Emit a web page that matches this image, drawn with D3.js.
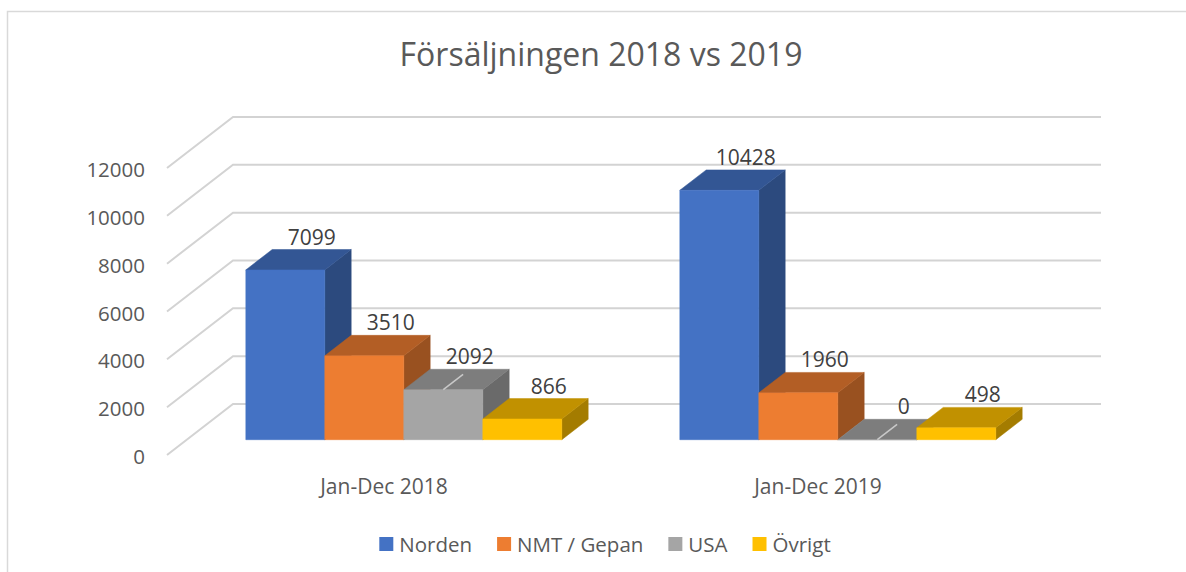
<!DOCTYPE html>
<html>
<head>
<meta charset="utf-8">
<script src="https://cdn.jsdelivr.net/npm/d3@7"></script>
<style>
  body { margin: 0; background: #fff; }
  text { font-family: "Open Sans", sans-serif; }
</style>
</head>
<body>
<svg id="chart" width="1186" height="572"></svg>
<script>
var categories = ['Jan-Dec 2018', 'Jan-Dec 2019']
var seriesNames = ['Norden', 'NMT / Gepan', 'USA', 'Övrigt']
var norden = [7099, 10428]
var nmtGepan = [3510, 1960]
var usa = [2092, 0]
var ovrigt = [866, 498]
var yTicks = [0, 2000, 4000, 6000, 8000, 10000, 12000]
var colors = ['#4472C4', '#ED7D31', '#A5A5A5', '#FFC000']

var seriesValues = [norden, nmtGepan, usa, ovrigt]

var svg = d3.select('#chart')

// frame (only top and left edge fall inside the window)
svg.append('rect')
  .attr('x', 7.5).attr('y', 11.5)
  .attr('width', 1300).attr('height', 700)
  .attr('fill', 'none')
  .attr('stroke', '#d9d9d9')
  .attr('stroke-width', 1.5)

// oblique 3d frame
var originX = 167, originY = 455
var plotW = 868, plotH = 287
var depthX = 66, depthY = 51
var zFront = 0.3, zBack = 0.7

var y = d3.scaleLinear().domain([0, 12000]).range([0, plotH])
var x0 = d3.scaleBand().domain(categories).range([0, plotW])
var x1 = d3.scaleBand().domain(seriesNames).range([0, x0.bandwidth()]).paddingOuter(0.747)

function proj(x, v, z) {
  return [originX + x + z * depthX, originY - y(v) - z * depthY]
}

function poly(pts) {
  return 'M' + pts.map(function(p) { return p[0] + ',' + p[1] }).join('L') + 'Z'
}

function shade(c, k) {
  var r = d3.rgb(c)
  return d3.rgb(r.r * k, r.g * k, r.b * k).formatHex()
}

// gridlines: side wall diagonal + back wall
svg.append('g').attr('class', 'grid')
  .selectAll('path')
  .data(yTicks)
  .enter()
  .append('path')
  .attr('d', function(d) {
    var a = proj(0, d, 0), b = proj(0, d, 1), c = proj(plotW, d, 1)
    return 'M' + a + 'L' + b + 'L' + c
  })
  .attr('fill', 'none')
  .attr('stroke', '#d3d3d3')
  .attr('stroke-width', 2)

// y labels
svg.append('g')
  .selectAll('text')
  .data(yTicks)
  .enter()
  .append('text')
  .attr('x', 145)
  .attr('y', function(d) { return proj(0, d, 0)[1] + 1 })
  .attr('text-anchor', 'end')
  .attr('dominant-baseline', 'central')
  .attr('font-size', 20.5)
  .attr('fill', '#595959')
  .text(function(d) { return d })

// bars
var bars = []
categories.forEach(function(cat, ci) {
  seriesNames.forEach(function(s, si) {
    bars.push({ cat: cat, series: s, value: seriesValues[si][ci], color: colors[si] })
  })
})

var barG = svg.append('g').attr('class', 'bars')
bars.forEach(function(d) {
  var xl = x0(d.cat) + x1(d.series)
  var xr = xl + x1.bandwidth()
  var g = barG.append('g')
  var side = [proj(xr, 0, zFront), proj(xr, 0, zBack), proj(xr, d.value, zBack), proj(xr, d.value, zFront)]
  var top = [proj(xl, d.value, zFront), proj(xr, d.value, zFront), proj(xr, d.value, zBack), proj(xl, d.value, zBack)]
  var front = [proj(xl, 0, zFront), proj(xr, 0, zFront), proj(xr, d.value, zFront), proj(xl, d.value, zFront)]
  g.append('path').attr('d', poly(side)).attr('fill', shade(d.color, 0.645)).attr('stroke', shade(d.color, 0.645)).attr('stroke-width', 0.5)
  g.append('path').attr('d', poly(top)).attr('fill', shade(d.color, 0.755)).attr('stroke', shade(d.color, 0.755)).attr('stroke-width', 0.5)
  g.append('path').attr('d', poly(front)).attr('fill', d.color).attr('stroke', d.color).attr('stroke-width', 0.5)
  if (d.series === 'USA') {
    var xm = (xl + xr) / 2
    var p1 = proj(xm, d.value, zFront), p2 = proj(xm + 0, d.value, zFront + 0.3)
    g.append('line')
      .attr('x1', p1[0]).attr('y1', p1[1])
      .attr('x2', p2[0]).attr('y2', p2[1])
      .attr('stroke', '#c9c9c9').attr('stroke-width', 1.5)
  }
})

// value labels
svg.append('g')
  .selectAll('text')
  .data(bars)
  .enter()
  .append('text')
  .attr('x', function(d) { return proj(x0(d.cat) + x1(d.series) + x1.bandwidth() / 2, d.value, zBack)[0] })
  .attr('y', function(d) { return proj(0, d.value, zBack)[1] - 13 })
  .attr('text-anchor', 'middle')
  .attr('dominant-baseline', 'central')
  .attr('font-size', 21)
  .attr('fill', '#404040')
  .text(function(d) { return d.value })

// category labels
svg.append('g')
  .selectAll('text')
  .data(categories)
  .enter()
  .append('text')
  .attr('x', function(d) { return originX + x0(d) + x0.bandwidth() / 2 })
  .attr('y', 486)
  .attr('text-anchor', 'middle')
  .attr('dominant-baseline', 'central')
  .attr('font-size', 21)
  .attr('fill', '#595959')
  .text(function(d) { return d })

// title
svg.append('text')
  .attr('x', 601)
  .attr('y', 66)
  .attr('text-anchor', 'middle')
  .attr('font-size', 32)
  .attr('fill', '#595959')
  .text('Försäljningen 2018 vs 2019')

// legend
var legend = svg.append('g')
var lx = 0
seriesNames.forEach(function(s, i) {
  var item = legend.append('g').attr('transform', 'translate(' + lx + ',0)')
  item.append('rect').attr('x', 0).attr('y', -7).attr('width', 14).attr('height', 14).attr('fill', colors[i])
  var t = item.append('text')
    .attr('x', 20)
    .attr('y', 0)
    .attr('dominant-baseline', 'central')
    .attr('font-size', 20.5)
    .attr('fill', '#595959')
    .text(s)
  lx += 20 + t.node().getComputedTextLength() + 25
})
var legendW = lx - 25
legend.attr('transform', 'translate(' + (605 - legendW / 2) + ',544)')
</script>
</body>
</html>
